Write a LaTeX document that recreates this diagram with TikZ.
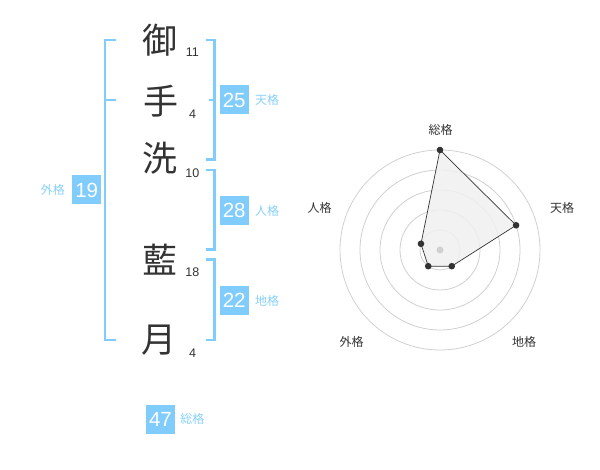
\documentclass[tikz,border=0pt]{standalone}
\usepackage{fontspec}
\setmainfont{Liberation Sans}
\newfontfamily\cjk{Noto Sans CJK JP}
\usetikzlibrary{positioning}
\definecolor{kakublue}{RGB}{128,204,252}
\definecolor{kakutext}{RGB}{135,208,250}
\definecolor{ink}{RGB}{51,51,51}
\definecolor{ring}{RGB}{208,208,208}
\definecolor{shade}{RGB}{240,240,240}

\begin{document}
\begin{tikzpicture}[x=1pt,y=-1pt,every node/.style={inner sep=0pt},
        kanji/.style={font=\cjk\fontsize{35}{35}\selectfont, text=ink},
        strokes/.style={font=\fontsize{12.5}{12.5}\selectfont, text=ink},
        numbox/.style={fill=kakublue, minimum size=29pt, text=white, font=\fontsize{20.5}{20.5}\selectfont},
        kaku/.style={font=\cjk\fontsize{12}{12}\selectfont, text=kakutext},
        axislabel/.style={font=\cjk\fontsize{12}{12}\selectfont, text=ink},
        bracket/.style={draw=kakublue, line width=2.3pt}]
                \useasboundingbox (0,0) rectangle (600,470);
                \node[kanji] (mi) at (160,40) {御};
                \node[kanji] (te) at (161,101) {手};
                \node[kanji] (arai) at (160,158) {洗};
                \node[kanji] (ai) at (160,260) {藍};
                \node[kanji] (tsuki) at (159,340) {月};
                \node[strokes] at (192.3,52.3) {11};
                \node[strokes] at (192.7,114.3) {4};
                \node[strokes] at (192.3,172.7) {10};
                \node[strokes] at (192.3,272.3) {18};
                \node[strokes] at (192.7,353.3) {4};
                \draw [bracket] (116,40) -- (105,40) -- (105,340) -- (116,340);
                \draw [bracket] (105,100) -- (116,100);
                \draw [bracket] (206,40) -- (214.5,40) -- (214.5,159.5) -- (206,159.5);
                \draw [bracket] (209,100) -- (214.5,100);
                \draw [bracket] (206,170) -- (214.5,170) -- (214.5,249.5) -- (206,249.5);
                \draw [bracket] (206,259.5) -- (214.5,259.5) -- (214.5,340) -- (206,340);
                \node[numbox] (gai) at (86.7,190) {19};
                \node[kaku, left=7pt of gai] {外格};
                \node[numbox] (ten) at (234.2,100) {25};
                \node[kaku, right=6pt of ten] {天格};
                \node[numbox] (jin) at (234.2,210.5) {28};
                \node[kaku, right=6pt of jin] {人格};
                \node[numbox] (chi) at (234.2,300.5) {22};
                \node[kaku, right=6pt of chi] {地格};
                \node[numbox] (so) at (160.5,419) {47};
                \node[kaku, right=5pt of so] {総格};
                \begin{scope}[shift={(440,250)},x=1pt,y=1pt]
                \draw [ring, line width=0.8pt] (0,0) circle (20) (0,0) circle (40) (0,0) circle (60) (0,0) circle (80) (0,0) circle (100);
                \coordinate (vso) at (90:100);
                \coordinate (vten) at (18:80);
                \coordinate (vchi) at (-54:20);
                \coordinate (vgai) at (-126:20);
                \coordinate (vjin) at (162:20);
                \filldraw [fill=shade, draw=ink, line width=0.7pt, fill opacity=0.85] (vso) -- (vten) -- (vchi) -- (vgai) -- (vjin) -- cycle;
                \fill [ring] (0,0) circle (3.5);
                \foreach \v in {vso,vten,vchi,vgai,vjin} \fill [ink] (\v) circle (3.3);
                \end{scope}
                \node[axislabel] at (440.5,130) {総格};
                \node[axislabel] at (562,208) {天格};
                \node[axislabel] at (319.5,208.3) {人格};
                \node[axislabel] at (351.7,342) {外格};
                \node[axislabel] at (524,342.3) {地格};
            \end{tikzpicture}
\end{document}
